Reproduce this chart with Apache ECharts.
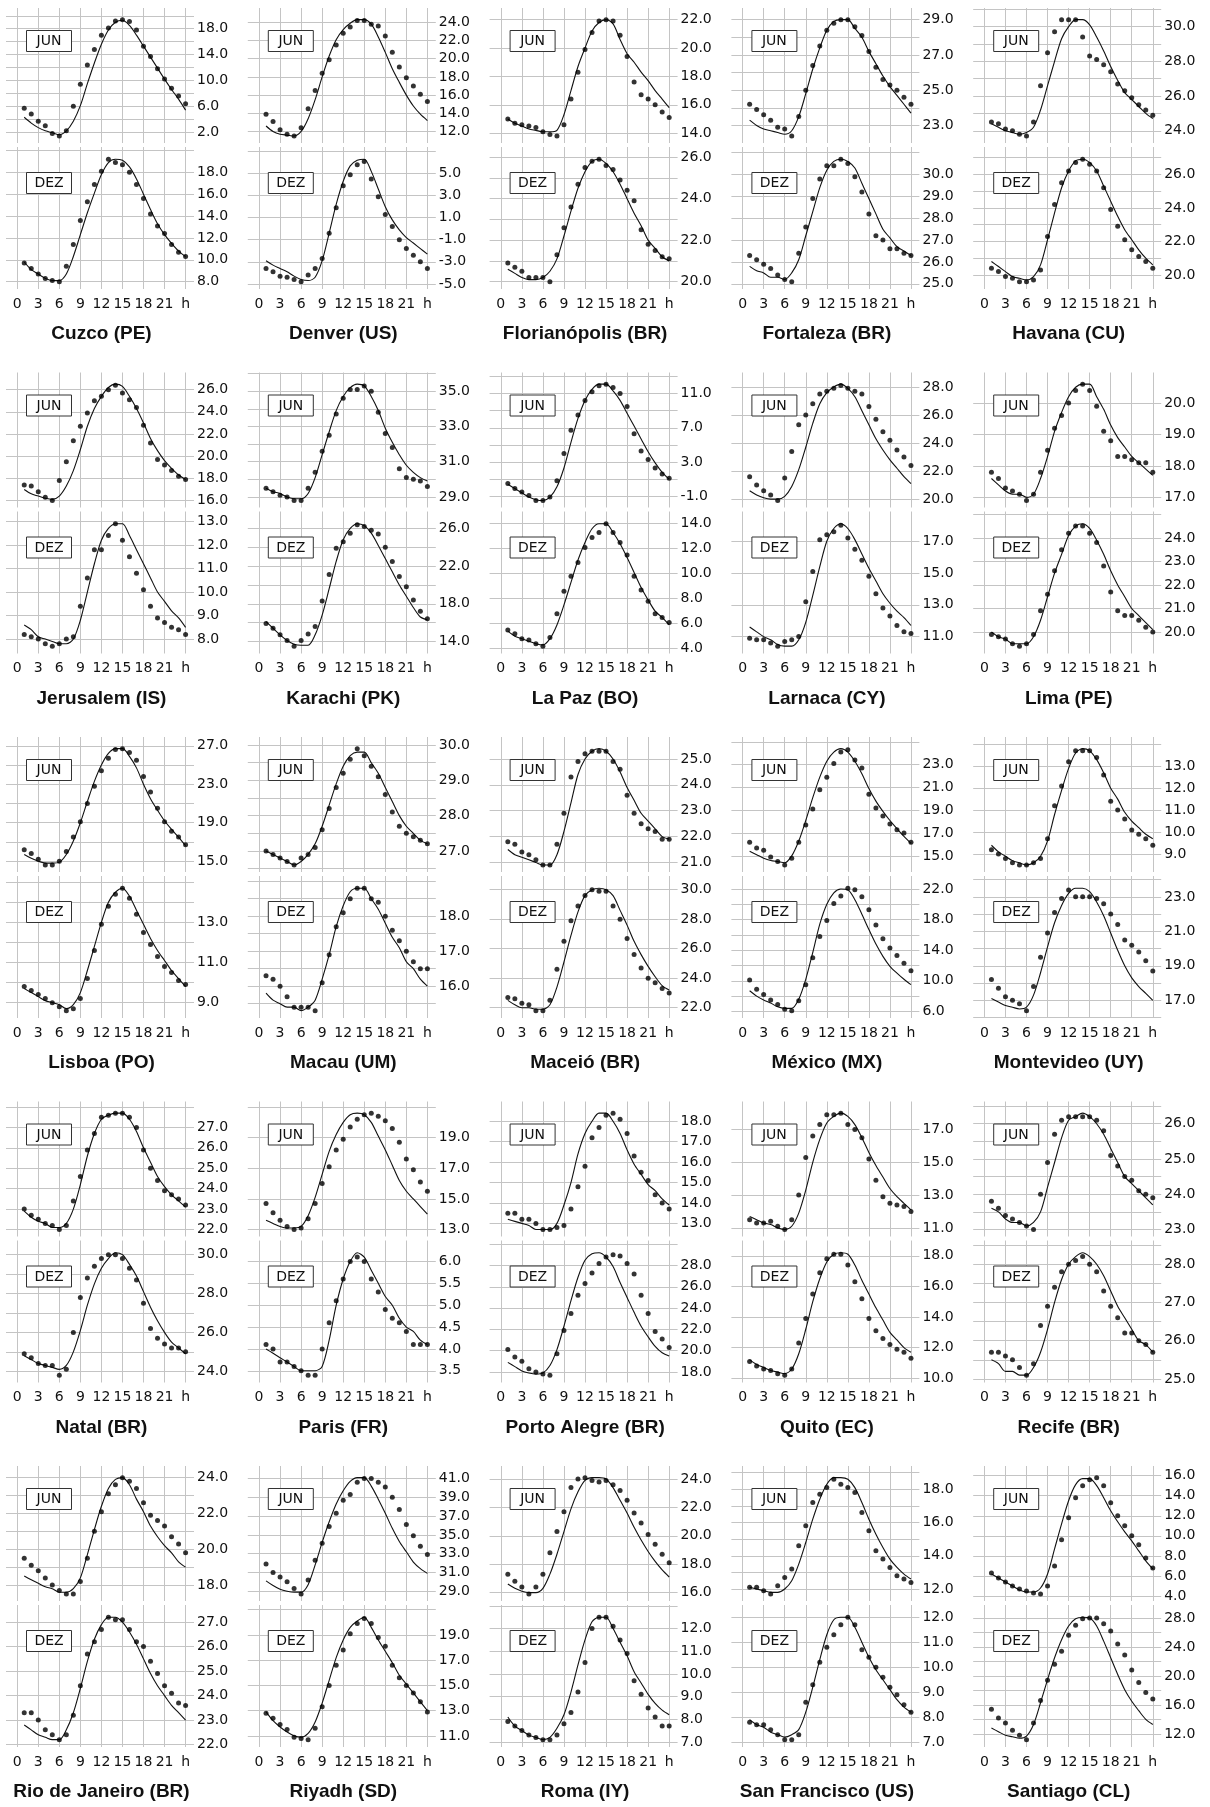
<!DOCTYPE html>
<html><head><meta charset="utf-8">
<script src="https://cdn.jsdelivr.net/npm/echarts@6/dist/echarts.min.js"></script>
<style>html,body{margin:0;padding:0;background:#fff}#c{width:1210px;height:1807px}</style>
</head><body><div id="c"></div>
<script>
const hours = [1,2,3,4,5,6,7,8,9,10,11,12,13,14,15,16,17,18,19,20,21,22,23,24];
const hourTicks = [0,3,6,9,12,15,18,21,24];
const cityNames = ['Cuzco (PE)','Denver (US)','Florianópolis (BR)','Fortaleza (BR)','Havana (CU)',
  'Jerusalem (IS)','Karachi (PK)','La Paz (BO)','Larnaca (CY)','Lima (PE)',
  'Lisboa (PO)','Macau (UM)','Maceió (BR)','México (MX)','Montevideo (UY)',
  'Natal (BR)','Paris (FR)','Porto Alegre (BR)','Quito (EC)','Recife (BR)',
  'Rio de Janeiro (BR)','Riyadh (SD)','Roma (IY)','San Francisco (US)','Santiago (CL)'];
const monthNames = ['JUN','DEZ'];

// Cuzco
const cuzcoJunObs = [5.7,4.8,3.7,3.0,1.8,1.4,2.2,6.0,9.4,12.4,14.8,17.0,18.1,19.2,19.4,19.1,17.8,15.3,13.7,11.8,10.2,8.8,7.6,6.4];
const cuzcoJunModel = [4.3,3.4,2.7,2.2,1.9,1.6,2.2,3.7,6.1,9.5,12.7,15.6,17.8,19.0,19.3,18.5,17.0,15.3,13.6,11.9,10.2,8.6,7.1,5.4];
const cuzcoJunTicks = [18,14,10,6,2];
const cuzcoDezObs = [9.7,9.2,8.7,8.3,8.1,8.0,9.4,11.4,13.6,15.3,16.9,18.1,19.2,18.9,18.7,18.0,16.9,15.6,14.2,13.1,12.4,11.4,10.7,10.3];
const cuzcoDezModel = [9.8,9.1,8.7,8.3,8.1,8.1,8.7,10.3,12.3,14.3,16.1,17.8,18.9,19.2,19.1,18.5,17.4,16.0,14.6,13.3,12.3,11.5,10.8,10.3];
const cuzcoDezTicks = [18,16,14,12,10,8];
// Denver
const denverJunObs = [13.9,13.1,12.2,11.7,11.5,12.4,14.5,16.5,18.4,19.9,21.5,22.8,23.5,24.2,24.2,23.8,23.6,22.5,20.7,19.1,17.9,17.0,16.1,15.3];
const denverJunModel = [12.6,12.0,11.7,11.6,11.5,12.0,13.4,15.5,18.0,20.3,22.1,23.2,23.9,24.3,24.3,23.8,22.4,20.7,18.9,17.4,16.0,14.8,13.9,13.2];
const denverJunTicks = [24,22,20,18,16,14,12];
const denverDezObs = [-3.6,-3.9,-4.3,-4.4,-4.6,-4.8,-4.2,-3.6,-2.7,-0.4,1.9,3.9,4.9,5.8,6.1,4.5,2.9,1.3,0.2,-1.0,-1.8,-2.4,-3.0,-3.6];
const denverDezModel = [-2.9,-3.3,-3.6,-3.9,-4.3,-4.6,-4.7,-4.4,-2.9,-0.4,2.2,4.3,5.7,6.2,6.3,5.2,3.6,2.0,0.8,-0.1,-0.8,-1.3,-1.8,-2.3];
const denverDezTicks = [5,3,1,-1,-3,-5];
// Florianópolis
const florJunObs = [15.0,14.7,14.6,14.5,14.4,14.1,13.9,13.8,14.6,16.4,18.3,19.9,21.1,21.9,22.0,21.9,20.9,19.4,17.6,16.7,16.4,16.0,15.5,15.1];
const florJunModel = [15.0,14.7,14.5,14.3,14.2,14.1,14.1,14.2,15.3,17.0,18.7,20.0,21.2,21.8,22.0,21.7,20.6,19.6,19.0,18.3,17.7,17.0,16.4,15.8];
const florJunTicks = [22,20,18,16,14];
const florDezObs = [20.9,20.7,20.5,20.2,20.2,20.2,20.0,21.3,22.6,23.6,24.7,25.5,25.8,25.9,25.6,25.4,24.9,24.4,23.9,22.5,21.8,21.5,21.2,21.1];
const florDezModel = [20.6,20.4,20.2,20.1,20.1,20.2,20.5,21.1,22.2,23.4,24.5,25.3,25.8,25.9,25.7,25.3,24.7,24.0,23.3,22.7,22.0,21.6,21.2,21.0];
const florDezTicks = [26,24,22,20];
// Fortaleza
const fortJunObs = [24.2,23.9,23.6,23.3,22.9,22.8,22.4,23.5,25.0,26.4,27.5,28.4,28.8,29.0,29.0,28.6,28.1,27.2,26.3,25.6,25.3,25.0,24.6,24.2];
const fortJunModel = [23.3,23.0,22.8,22.7,22.6,22.5,22.7,23.5,24.8,26.2,27.4,28.4,28.9,29.0,29.0,28.5,28.0,27.2,26.5,25.8,25.2,24.7,24.2,23.7];
const fortJunTicks = [29,27,25,23];
const fortDezObs = [26.3,26.1,25.9,25.7,25.4,25.2,25.1,26.4,27.6,28.9,29.8,30.4,30.4,30.7,30.5,29.9,29.2,28.2,27.2,27.0,26.6,26.6,26.4,26.3];
const fortDezModel = [25.8,25.6,25.5,25.3,25.3,25.2,25.5,26.1,27.2,28.3,29.4,30.2,30.6,30.7,30.6,30.3,29.6,28.9,28.2,27.5,27.1,26.7,26.5,26.3];
const fortDezTicks = [30,29,28,27,26,25];
// Havana
const havanaJunObs = [24.5,24.4,24.1,24.0,23.8,23.7,24.5,26.6,28.5,29.7,30.4,30.4,30.4,29.4,28.3,28.1,27.8,27.4,26.7,26.3,25.9,25.5,25.2,24.9];
const havanaJunModel = [24.4,24.2,24.0,23.9,23.8,23.9,24.2,25.2,26.6,28.0,29.3,30.0,30.4,30.4,30.1,29.4,28.6,27.7,26.9,26.2,25.8,25.4,25.0,24.7];
const havanaJunTicks = [30,28,26,24];
const havanaDezObs = [20.4,20.2,19.9,19.8,19.6,19.6,19.7,20.3,22.3,24.2,25.5,26.2,26.7,26.9,26.6,26.2,25.2,23.9,22.9,22.1,21.5,21.1,20.8,20.4];
const havanaDezModel = [20.8,20.5,20.2,19.9,19.8,19.7,19.9,20.6,22.1,23.7,25.2,26.2,26.8,26.9,26.7,26.2,25.3,24.4,23.5,22.7,22.1,21.5,21.0,20.6];
const havanaDezTicks = [26,24,22,20];
// Jerusalem
const jerusJunObs = [17.4,17.3,16.8,16.3,16.0,17.8,19.5,21.4,22.7,23.9,25.0,25.4,26.0,26.4,25.7,25.1,24.4,22.8,21.2,19.7,19.2,18.7,18.2,17.9];
const jerusJunModel = [17.0,16.6,16.4,16.2,16.1,16.4,17.3,18.7,20.6,22.7,24.3,25.4,26.2,26.5,26.3,25.4,24.3,23.0,21.6,20.5,19.6,18.9,18.3,17.9];
const jerusJunTicks = [26,24,22,20,18,16];
const jerusDezObs = [8.2,8.1,8.0,7.8,7.7,7.8,8.0,8.1,9.4,10.6,11.8,11.8,12.4,12.9,12.2,11.5,10.8,10.1,9.4,8.9,8.7,8.5,8.4,8.2];
const jerusDezModel = [8.6,8.4,8.1,8.0,7.9,7.8,7.8,8.0,8.8,10.0,11.2,12.2,12.7,12.9,12.9,12.4,11.8,11.2,10.6,10.0,9.6,9.2,8.9,8.5];
const jerusDezTicks = [13,12,11,10,9,8];
// Karachi
const karachiJunObs = [29.5,29.3,29.1,29.0,28.8,28.8,29.5,30.4,31.6,32.5,33.7,34.6,35.1,35.1,35.3,35.0,33.8,32.6,31.8,30.6,30.1,30.0,29.9,29.6];
const karachiJunModel = [29.5,29.3,29.2,29.0,28.9,28.9,29.2,30.1,31.4,32.7,33.9,34.7,35.2,35.4,35.3,34.7,33.9,32.9,32.1,31.4,30.8,30.4,30.1,29.9];
const karachiJunTicks = [35,33,31,29];
const karachiDezObs = [15.9,15.4,14.7,14.1,13.5,14.1,14.8,15.6,18.3,21.1,23.9,24.6,25.5,26.4,26.2,25.8,25.4,24.0,22.5,20.9,19.8,18.4,17.2,16.4];
const karachiDezModel = [16.1,15.4,14.7,14.1,13.7,13.6,13.6,14.7,16.8,19.6,22.5,24.8,26.0,26.5,26.3,25.5,24.2,22.8,21.4,20.0,18.8,17.6,16.6,16.3];
const karachiDezTicks = [26,22,18,14];
// La Paz
const lapazJunObs = [0.5,-0.1,-0.5,-0.9,-1.5,-1.5,-1.1,0.8,4.0,6.7,8.5,10.2,11.2,11.9,12.1,11.7,11.0,9.5,6.3,4.3,3.3,2.3,1.6,1.1];
const lapazJunModel = [0.4,-0.1,-0.6,-1.1,-1.4,-1.5,-1.1,0.1,2.3,5.3,8.1,10.2,11.5,12.1,12.1,11.3,10.2,8.7,7.2,5.7,4.2,2.9,1.8,1.0];
const lapazJunTicks = [11,7,3,-1];
const lapazDezObs = [5.5,5.2,4.8,4.7,4.4,4.2,4.9,6.8,8.6,9.8,10.9,12.1,12.9,13.3,14.0,13.3,12.5,11.5,9.8,8.7,7.8,6.8,6.5,6.1];
const lapazDezModel = [5.4,5.0,4.8,4.6,4.4,4.3,4.8,5.9,7.5,9.3,11.1,12.5,13.6,14.0,14.0,13.3,12.4,11.3,10.1,8.9,7.9,7.0,6.5,5.9];
const lapazDezTicks = [14,12,10,8,6,4];
// Larnaca
const larnacaJunObs = [21.6,21.0,20.6,20.3,19.9,21.5,23.4,25.3,26.0,26.8,27.5,27.7,27.9,28.1,27.9,27.7,27.5,26.6,25.7,24.8,24.2,23.5,23.0,22.4];
const larnacaJunModel = [20.6,20.3,20.1,20.0,20.0,20.2,20.9,22.1,23.7,25.4,26.8,27.6,28.0,28.2,27.9,27.3,26.3,25.3,24.3,23.5,22.8,22.2,21.6,21.1];
const larnacaJunTicks = [28,26,24,22,20];
const larnacaDezObs = [10.9,10.8,10.8,10.6,10.4,10.7,10.8,11.0,13.2,15.1,17.1,17.4,17.6,18.0,17.2,16.5,15.8,14.8,13.7,12.8,12.3,11.7,11.3,11.2];
const larnacaDezModel = [11.6,11.3,11.0,10.8,10.5,10.4,10.4,10.8,11.9,13.6,15.4,17.0,17.8,18.1,17.8,17.1,16.2,15.3,14.5,13.7,13.1,12.6,12.2,11.7];
const larnacaDezTicks = [17,15,13,11];
// Lima
const limaJunObs = [17.8,17.6,17.3,17.2,17.1,16.9,17.1,17.8,18.5,19.2,19.6,20.0,20.4,20.6,20.4,19.9,19.1,18.8,18.3,18.3,18.2,18.1,18.1,17.8];
const limaJunModel = [17.6,17.4,17.2,17.1,17.1,17.0,17.1,17.6,18.3,19.1,19.7,20.2,20.5,20.6,20.6,20.2,19.8,19.3,18.9,18.6,18.3,18.1,17.9,17.7];
const limaJunTicks = [20,19,18,17];
const limaDezObs = [19.9,19.8,19.7,19.5,19.4,19.5,19.9,20.9,21.6,22.6,23.5,24.2,24.5,24.5,24.2,23.8,22.8,21.7,20.9,20.7,20.7,20.5,20.2,20.0];
const limaDezModel = [20.0,19.8,19.7,19.5,19.5,19.5,19.8,20.5,21.5,22.5,23.3,24.1,24.5,24.6,24.4,23.9,23.3,22.6,22.0,21.5,21.0,20.7,20.4,20.1];
const limaDezTicks = [24,23,22,21,20];
// Lisboa
const lisboaJunObs = [16.2,15.8,15.2,14.6,14.6,15.0,16.0,17.5,19.1,21.0,22.8,24.4,25.7,26.6,26.7,26.3,25.5,23.8,22.2,20.5,19.1,18.1,17.5,16.7];
const lisboaJunModel = [15.7,15.3,15.0,14.8,14.8,14.9,15.7,17.1,19.0,21.2,23.3,25.0,26.2,26.7,26.7,25.9,24.7,23.0,21.5,20.3,19.2,18.3,17.5,16.6];
const lisboaJunTicks = [27,23,19,15];
const lisboaDezObs = [9.8,9.6,9.4,9.2,9.0,8.8,8.6,8.7,9.2,10.2,11.6,12.9,13.8,14.4,14.7,14.2,13.4,12.5,11.9,11.3,10.8,10.5,10.1,9.9];
const lisboaDezModel = [9.7,9.5,9.3,9.1,9.0,8.9,8.7,8.9,9.5,10.6,11.8,13.0,14.0,14.5,14.7,14.3,13.6,12.9,12.2,11.6,11.1,10.6,10.2,9.8];
const lisboaDezTicks = [13,11,9];
// Macau
const macauJunObs = [27.0,26.9,26.8,26.7,26.6,26.8,26.9,27.1,27.6,28.2,28.8,29.2,29.6,29.9,29.7,29.4,29.1,28.6,28.1,27.7,27.5,27.4,27.3,27.2];
const macauJunModel = [27.0,26.9,26.8,26.7,26.6,26.7,26.9,27.2,27.7,28.3,28.9,29.4,29.7,29.8,29.8,29.5,29.2,28.8,28.4,28.0,27.7,27.5,27.3,27.2];
const macauJunTicks = [30,29,28,27];
const macauDezObs = [16.3,16.2,16.0,15.7,15.4,15.4,15.4,15.3,16.1,16.9,17.7,18.1,18.5,18.8,18.8,18.5,18.4,18.0,17.6,17.3,17.0,16.7,16.5,16.5];
const macauDezModel = [15.8,15.6,15.5,15.4,15.4,15.3,15.4,15.6,16.2,16.9,17.7,18.3,18.7,18.8,18.8,18.5,18.2,17.8,17.4,17.1,16.7,16.5,16.2,16.0];
const macauDezTicks = [18,17,16];
// Maceió
const maceioJunObs = [21.8,21.7,21.4,21.3,21.1,20.9,20.9,21.7,22.9,24.3,24.9,25.2,25.3,25.3,25.3,24.9,24.6,23.6,22.9,22.5,22.3,22.2,21.9,21.9];
const maceioJunModel = [21.5,21.3,21.2,21.1,21.0,20.9,20.9,21.3,22.2,23.3,24.4,25.0,25.3,25.4,25.3,25.0,24.5,23.9,23.4,22.9,22.6,22.3,22.0,21.9];
const maceioJunTicks = [25,24,23,22,21];
const maceioDezObs = [22.7,22.6,22.3,22.2,21.8,21.8,22.5,24.6,26.5,27.9,28.9,29.6,30.0,29.9,29.9,28.9,28.0,26.7,25.6,24.7,24.0,23.7,23.3,23.0];
const maceioDezModel = [22.5,22.2,22.0,22.0,21.9,21.9,22.2,23.4,25.1,26.9,28.5,29.6,30.0,30.1,30.0,29.6,28.6,27.6,26.5,25.6,24.8,24.1,23.5,23.2];
const maceioDezTicks = [30,28,26,24,22];
// México
const mexicoJunObs = [16.2,15.7,15.5,14.9,14.5,14.2,14.8,16.2,17.7,19.1,20.8,21.9,23.1,24.1,24.3,23.4,22.7,20.4,19.2,18.5,17.8,17.3,17.0,16.2];
const mexicoJunModel = [15.4,15.1,14.8,14.6,14.5,14.4,15.0,16.3,18.1,20.1,21.9,23.3,24.1,24.4,24.1,23.3,22.2,20.9,19.8,18.9,18.1,17.4,16.7,16.1];
const mexicoJunTicks = [23,21,19,17,15];
const mexicoDezObs = [10.1,8.9,8.2,7.5,6.9,6.3,6.1,7.4,9.5,13.0,15.8,17.9,20.1,21.1,22.1,21.9,21.0,19.3,17.3,15.5,14.3,13.3,12.3,11.3];
const mexicoDezModel = [8.7,8.0,7.5,7.1,6.6,6.4,6.4,7.6,10.2,13.7,17.4,20.0,21.5,22.0,21.9,20.6,18.7,16.7,14.8,13.2,11.9,11.0,10.2,9.5];
const mexicoDezTicks = [22,18,14,10,6];
// Montevideo
const montJunObs = [9.2,9.0,8.8,8.6,8.5,8.5,8.6,8.8,9.7,11.2,12.1,13.2,13.7,13.7,13.7,13.4,12.6,11.4,11.0,10.6,10.1,9.9,9.7,9.4];
const montJunModel = [9.4,9.1,8.9,8.7,8.6,8.5,8.6,8.9,9.6,10.8,11.9,12.9,13.6,13.8,13.7,13.3,12.7,12.0,11.5,10.9,10.5,10.2,9.9,9.7];
const montJunTicks = [13,12,11,10,9];
const montDezObs = [18.2,17.7,17.2,17.0,16.8,16.4,17.8,19.5,20.9,22.1,22.9,23.4,23.0,23.0,23.0,22.9,22.6,22.0,21.4,20.5,20.2,19.8,19.3,18.7];
const montDezModel = [17.1,16.9,16.7,16.6,16.5,16.6,17.3,18.6,20.1,21.5,22.5,23.2,23.5,23.5,23.3,22.7,21.9,20.9,19.9,19.0,18.3,17.8,17.4,17.0];
const montDezTicks = [23,21,19,17];
// Natal
const natalJunObs = [23.0,22.7,22.5,22.3,22.2,22.0,22.2,23.4,24.6,25.9,26.7,27.5,27.6,27.7,27.7,27.5,27.0,25.9,25.0,24.4,23.9,23.7,23.5,23.2];
const natalJunModel = [22.9,22.6,22.4,22.3,22.1,22.1,22.3,23.0,24.2,25.6,26.7,27.4,27.6,27.7,27.7,27.4,26.8,26.0,25.3,24.6,24.1,23.7,23.4,23.1];
const natalJunTicks = [27,26,25,24,23,22];
const natalDezObs = [24.9,24.7,24.4,24.3,24.3,23.8,24.1,26.0,27.8,28.8,29.4,29.8,30.0,30.0,29.8,29.3,28.7,27.5,26.2,25.7,25.4,25.2,25.2,25.0];
const natalDezModel = [24.8,24.6,24.4,24.3,24.2,24.1,24.3,25.0,26.1,27.4,28.5,29.3,29.8,30.1,30.0,29.5,28.9,28.1,27.3,26.6,26.0,25.5,25.2,24.9];
const natalDezTicks = [30,28,26,24];
// Paris
const parisJunObs = [14.7,14.1,13.6,13.2,13.0,13.1,13.7,14.7,16.0,17.1,18.2,18.9,19.7,20.2,20.5,20.6,20.4,20.1,19.6,18.7,17.6,16.9,16.1,15.5];
const parisJunModel = [13.6,13.4,13.2,13.1,13.1,13.2,13.9,15.1,16.6,18.1,19.2,20.0,20.5,20.6,20.5,20.0,19.1,18.2,17.2,16.2,15.5,15.0,14.5,14.0];
const parisJunTicks = [19,17,15,13];
const parisDezObs = [4.1,4.0,3.7,3.7,3.6,3.5,3.4,3.4,4.0,4.6,5.1,5.6,6.0,6.1,6.0,5.6,5.3,4.9,4.7,4.6,4.4,4.1,4.1,4.1];
const parisDezModel = [4.0,3.9,3.8,3.7,3.6,3.5,3.5,3.5,3.6,4.2,5.0,5.6,6.0,6.2,6.1,5.8,5.5,5.2,5.0,4.7,4.5,4.4,4.2,4.1];
const parisDezTicks = [6.0,5.5,5.0,4.5,4.0,3.5];
// Porto Alegre
const poaJunObs = [13.5,13.5,13.2,13.2,13.0,12.7,12.7,12.8,12.9,13.7,14.8,15.8,17.2,17.7,18.3,18.4,18.1,17.4,16.3,15.5,15.1,14.4,14.0,13.7];
const poaJunModel = [13.2,13.1,13.0,12.9,12.7,12.7,12.7,13.0,13.9,15.0,16.4,17.4,18.0,18.4,18.4,18.0,17.4,16.6,15.9,15.4,14.9,14.6,14.2,13.9];
const poaJunTicks = [18,17,16,15,14,13];
const poaDezObs = [20.1,19.4,19.0,18.3,18.0,17.8,17.7,19.7,21.9,23.5,25.2,26.3,27.3,28.2,28.8,29.0,28.9,28.2,27.2,25.2,23.5,21.8,21.1,20.3];
const poaDezModel = [18.9,18.5,18.1,17.9,17.8,17.9,18.6,20.1,22.3,24.7,26.9,28.5,29.1,29.2,28.8,27.9,26.4,25.0,23.6,22.3,21.3,20.4,19.8,19.5];
const poaDezTicks = [28,26,24,22,20,18];
// Quito
const quitoJunObs = [11.5,11.3,11.3,11.4,11.1,10.9,11.5,13.0,15.3,16.6,17.3,17.9,17.9,18.0,17.3,17.0,16.5,15.2,13.9,12.9,12.5,12.4,12.3,12.0];
const quitoJunModel = [11.7,11.5,11.3,11.2,11.0,10.9,11.1,11.9,13.3,15.0,16.4,17.4,17.8,18.0,17.8,17.3,16.5,15.6,14.8,14.1,13.4,12.9,12.5,12.1];
const quitoJunTicks = [17,15,13,11];
const quitoDezObs = [11.1,10.8,10.6,10.5,10.3,10.2,10.6,12.3,13.9,15.5,16.9,17.8,18.1,18.1,17.4,16.3,15.2,13.9,13.1,12.6,12.2,11.9,11.7,11.3];
const quitoDezModel = [11.2,10.9,10.7,10.5,10.4,10.3,10.6,11.6,13.2,15.0,16.5,17.6,18.1,18.2,18.1,17.4,16.4,15.5,14.6,13.8,13.0,12.5,12.0,11.7];
const quitoDezTicks = [18,16,14,12,10];
// Recife
const recifeJunObs = [23.8,23.6,23.4,23.3,23.2,23.1,23.0,24.0,24.9,25.7,26.1,26.2,26.2,26.2,26.2,26.1,25.8,25.1,24.8,24.5,24.4,24.1,24.0,23.9];
const recifeJunModel = [23.6,23.5,23.3,23.2,23.2,23.1,23.2,23.5,24.2,24.9,25.6,26.1,26.2,26.3,26.2,26.0,25.7,25.3,24.9,24.5,24.3,24.1,23.9,23.7];
const recifeJunTicks = [26,25,24,23];
const recifeDezObs = [25.7,25.7,25.6,25.5,25.3,25.1,25.4,26.4,26.9,27.4,27.8,28.0,28.1,28.2,28.0,27.8,27.3,26.9,26.6,26.2,26.2,26.0,25.9,25.7];
const recifeDezModel = [25.5,25.4,25.2,25.2,25.1,25.1,25.3,25.7,26.3,27.0,27.6,28.0,28.2,28.3,28.2,28.0,27.7,27.3,26.9,26.6,26.3,26.0,25.9,25.7];
const recifeDezTicks = [28,27,26,25];
// Rio de Janeiro
const rioJunObs = [19.5,19.1,18.8,18.4,18.0,17.7,17.5,17.5,18.2,19.5,21.0,22.1,23.1,23.6,24.0,23.8,23.4,22.6,21.9,21.6,21.3,20.7,20.3,19.8];
const rioJunModel = [18.5,18.3,18.1,17.9,17.8,17.6,17.6,17.8,18.4,19.7,21.1,22.4,23.4,23.9,24.0,23.6,22.8,22.1,21.3,20.7,20.2,19.8,19.3,19.0];
const rioJunTicks = [24,22,20,18];
const rioDezObs = [23.3,23.3,23.0,22.6,22.4,22.2,22.4,23.2,24.4,25.7,26.2,26.7,27.2,27.1,27.1,26.7,26.2,26.0,25.4,24.9,24.4,24.1,23.7,23.6];
const rioDezModel = [22.8,22.6,22.4,22.3,22.2,22.2,22.6,23.3,24.3,25.4,26.3,26.9,27.2,27.2,27.0,26.6,26.1,25.5,24.9,24.4,24.0,23.6,23.3,23.0];
const rioDezTicks = [27,26,25,24,23,22];
// Riyadh
const riyadhJunObs = [31.9,31.0,30.5,30.0,29.3,28.7,30.2,32.3,34.1,35.9,37.3,38.7,39.3,40.6,41.0,41.0,40.6,40.1,39.0,37.7,36.1,34.9,33.8,32.9];
const riyadhJunModel = [30.1,29.6,29.2,29.0,28.9,28.9,29.7,31.8,34.2,36.4,38.3,39.7,40.7,41.1,41.1,40.2,38.8,37.3,35.7,34.3,33.2,32.1,31.4,30.9];
const riyadhJunTicks = [41,39,37,35,33,31,29];
const riyadhDezObs = [12.8,12.4,11.9,11.5,10.9,10.8,10.7,11.6,13.3,15.0,16.6,17.8,19.1,19.9,20.3,19.9,18.8,18.1,16.6,15.6,15.0,14.4,13.7,12.9];
const riyadhDezModel = [12.9,12.2,11.7,11.3,11.0,10.9,11.2,12.1,13.6,15.4,17.2,18.6,19.6,20.1,20.4,19.6,18.6,17.7,16.8,15.8,15.1,14.4,13.7,13.0];
const riyadhDezTicks = [19,17,15,13,11];
// Roma
const romaJunObs = [17.3,16.8,16.4,15.9,16.4,17.3,18.8,20.3,21.7,23.4,24.0,24.1,23.9,23.8,23.9,23.6,23.2,22.5,21.6,20.9,20.1,19.4,18.7,18.1];
const romaJunModel = [16.6,16.3,16.1,16.0,16.0,16.3,17.3,18.7,20.3,21.9,23.1,23.9,24.1,24.1,24.0,23.4,22.5,21.6,20.6,19.7,18.9,18.2,17.6,17.1];
const romaJunTicks = [24,22,20,18,16];
const romaDezObs = [7.9,7.7,7.5,7.3,7.2,7.1,7.1,7.3,7.8,8.3,9.2,10.5,12.0,12.5,12.5,12.1,11.5,10.9,9.7,9.1,8.5,8.1,7.7,7.7];
const romaDezModel = [8.1,7.7,7.5,7.3,7.2,7.1,7.2,7.6,8.2,9.2,10.4,11.5,12.3,12.5,12.5,12.0,11.4,10.8,10.1,9.6,9.1,8.7,8.4,8.2];
const romaDezTicks = [12,11,10,9,8,7];
// San Francisco
const sfJunObs = [12.1,12.1,11.9,11.7,12.2,12.7,13.2,14.6,15.8,17.2,17.7,18.1,18.6,18.3,18.1,17.8,16.6,15.5,14.3,13.8,13.3,12.8,12.6,12.4];
const sfJunModel = [12.1,12.0,11.9,11.8,11.8,12.0,12.5,13.5,14.8,16.2,17.4,18.3,18.7,18.7,18.6,18.1,17.2,16.2,15.3,14.5,13.8,13.3,12.9,12.6];
const sfJunTicks = [18,16,14,12];
const sfDezObs = [7.8,7.7,7.7,7.5,7.3,7.1,7.1,7.3,8.6,9.3,10.2,10.8,11.3,11.7,12.0,11.7,10.7,10.4,10.0,9.6,9.2,8.9,8.5,8.2];
const sfDezModel = [7.9,7.7,7.6,7.4,7.3,7.2,7.3,7.5,8.2,9.2,10.3,11.3,11.9,12.0,12.0,11.6,11.0,10.4,9.9,9.5,9.1,8.7,8.4,8.2];
const sfDezTicks = [12,11,10,9,8,7];
// Santiago
const santJunObs = [6.3,5.8,5.4,5.0,4.7,4.5,4.3,4.2,5.0,7.0,9.6,11.8,13.8,15.0,15.6,15.8,15.0,13.3,12.0,11.0,10.0,9.1,7.8,6.8];
const santJunModel = [6.2,5.8,5.4,5.0,4.6,4.4,4.4,4.8,6.2,8.7,11.2,13.5,15.1,15.7,15.7,15.0,13.8,12.5,11.4,10.4,9.5,8.5,7.5,6.7];
const santJunTicks = [16,14,12,10,8,6,4];
const santDezObs = [15.4,14.2,13.5,12.5,11.8,11.2,13.5,16.6,19.4,21.6,23.4,25.6,27.0,27.9,28.0,28.0,27.2,26.2,24.4,22.9,20.8,19.1,17.7,16.8];
const santDezModel = [12.8,12.3,11.8,11.6,11.4,11.7,13.3,16.3,19.5,22.5,25.0,26.9,27.9,28.1,28.0,26.9,24.8,22.5,20.2,18.1,16.5,15.2,14.0,13.3];
const santDezTicks = [28,24,20,16,12];

// panel list: [junObs, junModel, junTicks, dezObs, dezModel, dezTicks] per city, same order as cityNames
const cityPanels = [
  [cuzcoJunObs,cuzcoJunModel,cuzcoJunTicks,cuzcoDezObs,cuzcoDezModel,cuzcoDezTicks],
  [denverJunObs,denverJunModel,denverJunTicks,denverDezObs,denverDezModel,denverDezTicks],
  [florJunObs,florJunModel,florJunTicks,florDezObs,florDezModel,florDezTicks],
  [fortJunObs,fortJunModel,fortJunTicks,fortDezObs,fortDezModel,fortDezTicks],
  [havanaJunObs,havanaJunModel,havanaJunTicks,havanaDezObs,havanaDezModel,havanaDezTicks],
  [jerusJunObs,jerusJunModel,jerusJunTicks,jerusDezObs,jerusDezModel,jerusDezTicks],
  [karachiJunObs,karachiJunModel,karachiJunTicks,karachiDezObs,karachiDezModel,karachiDezTicks],
  [lapazJunObs,lapazJunModel,lapazJunTicks,lapazDezObs,lapazDezModel,lapazDezTicks],
  [larnacaJunObs,larnacaJunModel,larnacaJunTicks,larnacaDezObs,larnacaDezModel,larnacaDezTicks],
  [limaJunObs,limaJunModel,limaJunTicks,limaDezObs,limaDezModel,limaDezTicks],
  [lisboaJunObs,lisboaJunModel,lisboaJunTicks,lisboaDezObs,lisboaDezModel,lisboaDezTicks],
  [macauJunObs,macauJunModel,macauJunTicks,macauDezObs,macauDezModel,macauDezTicks],
  [maceioJunObs,maceioJunModel,maceioJunTicks,maceioDezObs,maceioDezModel,maceioDezTicks],
  [mexicoJunObs,mexicoJunModel,mexicoJunTicks,mexicoDezObs,mexicoDezModel,mexicoDezTicks],
  [montJunObs,montJunModel,montJunTicks,montDezObs,montDezModel,montDezTicks],
  [natalJunObs,natalJunModel,natalJunTicks,natalDezObs,natalDezModel,natalDezTicks],
  [parisJunObs,parisJunModel,parisJunTicks,parisDezObs,parisDezModel,parisDezTicks],
  [poaJunObs,poaJunModel,poaJunTicks,poaDezObs,poaDezModel,poaDezTicks],
  [quitoJunObs,quitoJunModel,quitoJunTicks,quitoDezObs,quitoDezModel,quitoDezTicks],
  [recifeJunObs,recifeJunModel,recifeJunTicks,recifeDezObs,recifeDezModel,recifeDezTicks],
  [rioJunObs,rioJunModel,rioJunTicks,rioDezObs,rioDezModel,rioDezTicks],
  [riyadhJunObs,riyadhJunModel,riyadhJunTicks,riyadhDezObs,riyadhDezModel,riyadhDezTicks],
  [romaJunObs,romaJunModel,romaJunTicks,romaDezObs,romaDezModel,romaDezTicks],
  [sfJunObs,sfJunModel,sfJunTicks,sfDezObs,sfDezModel,sfDezTicks],
  [santJunObs,santJunModel,santJunTicks,santDezObs,santDezModel,santDezTicks]
];

// ---------- layout ----------
const TICK_FONT = "'DejaVu Sans', Verdana, sans-serif";
const NAME_FONT = "'Liberation Sans', Arial, sans-serif";
const COL_PITCH = 241.8, ROW_PITCH = 364.5;
const GRID_LEFT0 = 6, GRID_W = 188;
const X_MIN = -1.6, X_MAX = 25.2;
const PANEL_GEOM = [{top: 8, h: 135}, {top: 147, h: 142}];
const GRID_COLOR = '#c4c4c4';

const chart = echarts.init(document.getElementById('c'), null, {renderer: 'canvas'});
const grids = [], xAxes = [], yAxes = [], series = [], graphics = [];

function r1(v){ return Math.round(v * 1000) / 1000; }

cityPanels.forEach((p, ci) => {
  const col = ci % 5, row = Math.floor(ci / 5);
  const left = GRID_LEFT0 + col * COL_PITCH;
  const rowTop = row * ROW_PITCH;
  for (let m = 0; m < 2; m++) {
    const obs = p[m * 3], model = p[m * 3 + 1], ticks = p[m * 3 + 2];
    const g = PANEL_GEOM[m];
    const all = obs.concat(model);
    const dmin = Math.min.apply(null, all), dmax = Math.max.apply(null, all);
    const rng = dmax - dmin;
    const lo = dmin - 0.06 * rng, hi = dmax + 0.10 * rng;
    const labelStep = Math.abs(ticks[0] - ticks[1]);
    const pxPer = g.h / (hi - lo);
    const step = (labelStep >= 4 || labelStep * pxPer > 33) ? labelStep / 2 : labelStep;
    const base = Math.min.apply(null, ticks);
    const gridVals = [];
    for (let k = -40; k <= 80; k++) {
      const v = r1(base + k * step);
      if (v >= lo && v <= hi) gridVals.push(v);
    }
    const idx = grids.length;
    grids.push({left: left, top: rowTop + g.top, width: GRID_W, height: g.h, containLabel: false});
    xAxes.push({
      gridIndex: idx, type: 'value', min: X_MIN, max: X_MAX,
      axisLine: {show: false},
      axisTick: {show: false, customValues: hourTicks},
      splitLine: {show: true, lineStyle: {color: GRID_COLOR, width: 1}},
      axisLabel: {show: m === 1, customValues: hourTicks, margin: 8,
        formatter: v => (v === 24 ? 'h' : String(v)),
        color: '#111', fontFamily: TICK_FONT, fontSize: 14}
    });
    yAxes.push({
      gridIndex: idx, type: 'value', position: 'right', min: lo, max: hi,
      axisLine: {show: false},
      axisTick: {show: false, customValues: gridVals},
      splitLine: {show: true, lineStyle: {color: GRID_COLOR, width: 1}},
      axisLabel: {show: true, customValues: ticks, margin: 3,
        formatter: v => Number(v).toFixed(1),
        color: '#111', fontFamily: TICK_FONT, fontSize: 14}
    });
    series.push({
      type: 'line', xAxisIndex: idx, yAxisIndex: idx,
      data: hours.map((h, i) => [h, model[i]]),
      symbol: 'none', smooth: 0.3, silent: true,
      lineStyle: {color: '#111', width: 1.1}, z: 3
    });
    series.push({
      type: 'scatter', xAxisIndex: idx, yAxisIndex: idx,
      data: hours.map((h, i) => [h, obs[i]]),
      symbol: 'circle', symbolSize: 5, silent: true,
      itemStyle: {color: '#000'}, z: 4
    });
    const by = rowTop + (m === 0 ? 30 : 172);
    graphics.push({type: 'rect', z: 100, shape: {x: left + 20.5, y: by + 0.5, width: 45, height: 21},
      style: {fill: '#fff', stroke: '#333', lineWidth: 1}});
    graphics.push({type: 'text', z: 101, x: left + 43, y: by + 11.5,
      style: {text: monthNames[m], textAlign: 'center', textVerticalAlign: 'middle',
        font: '14px ' + TICK_FONT, fill: '#111'}});
  }
  graphics.push({type: 'text', z: 101, x: left + 95.5, y: rowTop + 334,
    style: {text: cityNames[ci], textAlign: 'center', textVerticalAlign: 'middle',
      font: 'bold 19px ' + NAME_FONT, fill: '#111'}});
});

chart.setOption({
  animation: false,
  backgroundColor: '#fff',
  grid: grids, xAxis: xAxes, yAxis: yAxes, series: series,
  graphic: {elements: graphics}
});
</script>
</body></html>
